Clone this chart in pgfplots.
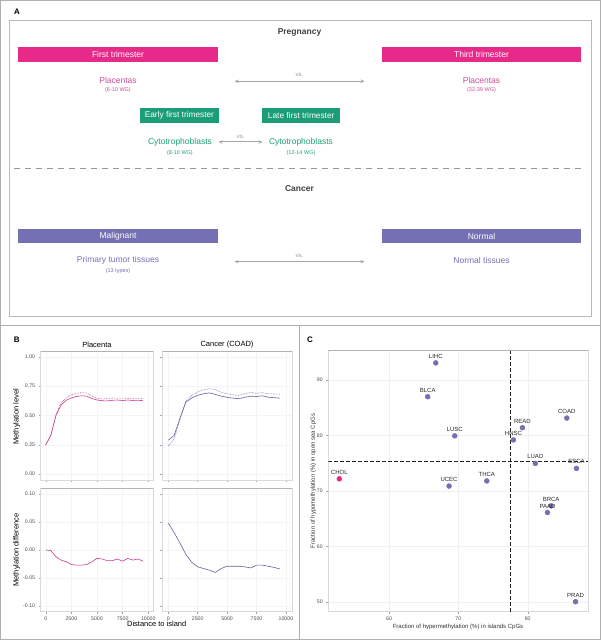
\documentclass[border=0pt]{standalone}
\usepackage{pgfplots}
\pgfplotsset{compat=1.18}
\usepackage{pgfplotstable}
\usepackage{fontspec}
\setmainfont{Liberation Sans}
\usetikzlibrary{arrows.meta}
\definecolor{dpink}{RGB}{231,41,138}
\definecolor{dgreen}{RGB}{27,158,119}
\definecolor{dpurple}{RGB}{117,112,179}
\definecolor{plac}{RGB}{200,60,140}
\definecolor{canc}{RGB}{100,96,160}
\definecolor{plactext}{RGB}{204,76,150}
\definecolor{framegray}{RGB}{175,175,175}
\definecolor{ticktext}{RGB}{77,77,77}
\newcommand{\fs}[1]{\fontsize{#1}{#1}\selectfont}

\pgfplotstableread{
d sol dot diff
0 0.250 0.250 0.000
500 0.330 0.331 -0.001
1000 0.500 0.512 -0.012
1500 0.590 0.608 -0.018
2000 0.630 0.651 -0.021
2500 0.650 0.676 -0.026
3000 0.662 0.689 -0.027
3500 0.668 0.695 -0.027
4000 0.665 0.691 -0.026
4500 0.645 0.666 -0.021
5000 0.632 0.647 -0.015
5500 0.626 0.642 -0.016
6000 0.624 0.643 -0.019
6500 0.630 0.649 -0.019
7000 0.632 0.648 -0.016
7500 0.628 0.648 -0.020
8000 0.632 0.647 -0.015
8500 0.628 0.646 -0.018
9000 0.630 0.646 -0.016
9500 0.626 0.646 -0.020
}\plactab

\pgfplotstableread{
d sol dot diff
0 0.290 0.242 0.048
500 0.330 0.299 0.031
1000 0.480 0.468 0.012
1500 0.615 0.623 -0.008
2000 0.650 0.672 -0.022
2500 0.672 0.702 -0.030
3000 0.685 0.718 -0.033
3500 0.693 0.729 -0.036
4000 0.680 0.720 -0.040
4500 0.665 0.698 -0.033
5000 0.655 0.684 -0.029
5500 0.648 0.677 -0.029
6000 0.643 0.672 -0.029
6500 0.655 0.685 -0.030
7000 0.665 0.697 -0.032
7500 0.662 0.689 -0.027
8000 0.668 0.695 -0.027
8500 0.656 0.685 -0.029
9000 0.652 0.683 -0.031
9500 0.648 0.682 -0.034
}\canctab

\pgfplotstableread{
x y lab
66.74 93.10 LIHC
65.58 86.99 BLCA
69.48 79.94 LUSC
68.66 70.87 UCEC
74.10 71.80 THCA
79.24 81.40 READ
77.94 79.20 HNSC
85.64 83.14 COAD
81.10 74.96 LUAD
87.03 74.06 ESCA
83.38 67.30 BRCA
82.85 66.10 PAAD
86.90 50.00 PRAD
}\ctab

\pgfplotstableread{
x y lab
52.83 72.18 CHOL
}\choltab

\pgfplotsset{
  bstyle/.style={scale only axis, anchor=south west, xmin=-500, xmax=10500,
    scaled ticks=false,
    axis line style={gray!30, line width=0.5pt},
    tick style={gray!70, line width=0.4pt}, tick align=outside,
    major tick length=2pt, xtick pos=lower, ytick pos=left,
    tick label style={font=\fs{5.2}, text=ticktext},
    grid=major, grid style={gray!9, line width=0.4pt},
    xtick={0,2500,5000,7500,10000}},
  toppan/.style={bstyle, height=129pt, ymin=-0.05, ymax=1.05,
    ytick={0,0.25,0.5,0.75,1}, xticklabels={}},
  botpan/.style={bstyle, height=123.4pt, ymin=-0.11, ymax=0.11,
    ytick={-0.1,-0.05,0,0.05,0.1},
    xticklabels={0,2500,5000,7500,10000}},
}

\begin{document}
\begin{tikzpicture}
% outer frames
\draw[framegray, line width=1pt] (0.5pt,0.5pt) rectangle (600.5pt,639.5pt);
\draw[framegray, line width=1pt] (0pt,314.3pt) -- (601pt,314.3pt);
\draw[framegray, line width=1pt] (299.5pt,0pt) -- (299.5pt,314.3pt);

\begin{scope}[x=1pt,y=1pt]
% ---------------- Panel A ----------------
\node[font=\bfseries\fs{8}] at (17,628) {A};
\draw[gray!55, line width=0.7pt] (9.2,323.3) rectangle (591.4,620);
\node[font=\bfseries\fs{8.5}, text=black!75] at (299.5,608) {Pregnancy};
\fill[dpink] (18,578) rectangle (218,592.7);
\fill[dpink] (381.7,578) rectangle (581.4,592.7);
\node[font=\fs{8.5}, text=white] at (118,585.3) {First trimester};
\node[font=\fs{8.5}, text=white] at (481.5,585.3) {Third trimester};
\node[font=\fs{8.5}, text=plactext] at (118,560) {Placentas};
\node[font=\fs{5.5}, text=plactext] at (118,550) {(6-10 WG)};
\node[font=\fs{8.5}, text=plactext] at (481.5,560) {Placentas};
\node[font=\fs{5.5}, text=plactext] at (481.5,550) {(32-39 WG)};
\draw[gray!70, line width=1pt, {Stealth[length=4pt,width=3.5pt]}-{Stealth[length=4pt,width=3.5pt]}] (234.6,558.7) -- (364.5,558.7);
\node[font=\fs{6}, text=gray!80] at (299.5,565) {vs.};
\fill[dgreen] (140.3,517.3) rectangle (218.5,532);
\fill[dgreen] (262,517.3) rectangle (340.4,532);
\node[font=\fs{8.3}, text=white] at (179.4,524.7) {Early first trimester};
\node[font=\fs{8.3}, text=white] at (301.2,524.7) {Late first trimester};
\node[font=\fs{8.5}, text=dgreen] at (180,498) {Cytotrophoblasts};
\node[font=\fs{5.5}, text=dgreen] at (180,487) {(8-10 WG)};
\node[font=\fs{8.5}, text=dgreen] at (301,498) {Cytotrophoblasts};
\node[font=\fs{5.5}, text=dgreen] at (301,487) {(12-14 WG)};
\draw[gray!70, line width=1pt, {Stealth[length=4pt,width=3.5pt]}-{Stealth[length=4pt,width=3.5pt]}] (218.5,498) -- (262.5,498);
\node[font=\fs{6}, text=gray!80] at (240.7,503.5) {vs.};
\draw[gray!80, line width=0.9pt, dash pattern=on 6pt off 5pt] (14,471.7) -- (580.7,471.7);
\node[font=\bfseries\fs{8.5}, text=black!75] at (299.5,451) {Cancer};
\fill[dpurple] (18,396.7) rectangle (218,411.3);
\fill[dpurple] (381.7,396.7) rectangle (581.4,411.3);
\node[font=\fs{8.5}, text=white] at (118,404) {Malignant};
\node[font=\fs{8.5}, text=white] at (481.5,404) {Normal};
\node[font=\fs{8.5}, text=dpurple] at (118,379.7) {Primary tumor tissues};
\node[font=\fs{5.5}, text=dpurple] at (118,369.3) {(13 types)};
\node[font=\fs{8.5}, text=dpurple] at (481.5,379.7) {Normal tissues};
\draw[gray!70, line width=1pt, {Stealth[length=4pt,width=3.5pt]}-{Stealth[length=4pt,width=3.5pt]}] (234.6,378.3) -- (364.5,378.3);
\node[font=\fs{6}, text=gray!80] at (299.5,384.5) {vs.};

% ---------------- Panel B labels ----------------
\node[font=\bfseries\fs{8}] at (16.7,300) {B};
\node[font=\fs{7.5}] at (97,295) {Placenta};
\node[font=\fs{7.5}] at (227,295) {Cancer (COAD)};
\node[font=\fs{7.5}, rotate=90] at (16.7,223.3) {Methylation level};
\node[font=\fs{7.5}, rotate=90] at (16.7,90) {Methylation difference};
\node[font=\fs{7.5}] at (156.7,15.7) {Distance to island};
% ---------------- Panel C labels ----------------
\node[font=\bfseries\fs{8}] at (310,300) {C};
\node[font=\fs{6}, text=black!80] at (458,13.3) {Fraction of hypermethylation (\%) in islands CpGs};
\node[font=\fs{6}, text=black!80, rotate=90] at (313.3,159) {Fraction of hypomethylation (\%) in open sea CpGs};
\end{scope}

\begin{axis}[toppan, at={(40.6pt,160pt)}, width=112.8pt,
  yticklabels={0.00,0.25,0.50,0.75,1.00}]
\addplot[plac, line width=0.6pt] table[x=d,y=sol]{\plactab};
\addplot[plac, line width=0.6pt, densely dotted] table[x=d,y=dot]{\plactab};
\draw[gray!60, line width=0.9pt] (rel axis cs:0,1) -- (rel axis cs:1,1);
\end{axis}
\begin{axis}[toppan, at={(162.4pt,160pt)}, width=129.4pt, yticklabels={}]
\addplot[canc, line width=0.6pt] table[x=d,y=sol]{\canctab};
\addplot[canc, line width=0.6pt, densely dotted] table[x=d,y=dot]{\canctab};
\draw[gray!60, line width=0.9pt] (rel axis cs:0,1) -- (rel axis cs:1,1);
\end{axis}
\begin{axis}[botpan, at={(40.6pt,28.3pt)}, width=112.8pt,
  yticklabels={-0.10,-0.05,0.00,0.05,0.10}]
\addplot[plac, line width=0.6pt] table[x=d,y=diff]{\plactab};
\draw[gray!60, line width=0.9pt] (rel axis cs:0,1) -- (rel axis cs:1,1);
\end{axis}
\begin{axis}[botpan, at={(162.4pt,28.3pt)}, width=129.4pt, yticklabels={}]
\addplot[canc, line width=0.6pt] table[x=d,y=diff]{\canctab};
\draw[gray!60, line width=0.9pt] (rel axis cs:0,1) -- (rel axis cs:1,1);
\end{axis}

% ---------------- Panel C ----------------
\begin{axis}[scale only axis, anchor=south west, at={(328.3pt,28.3pt)}, width=260pt, height=261pt,
  xmin=51.24, xmax=88.74, ymin=48.2, ymax=95.3, scaled ticks=false,
  xtick={60,70,80}, xticklabels={60,70,80},
  ytick={50,60,70,80,90}, yticklabels={50,60,70,80,90},
  axis line style={gray!30, line width=0.5pt},
  tick style={gray!70, line width=0.4pt}, tick align=outside,
  major tick length=2pt, xtick pos=lower, ytick pos=left,
  tick label style={font=\fs{5.2}, text=ticktext},
  grid=major, grid style={gray!12, line width=0.4pt}]
\addplot[gray!25!black, line width=0.7pt, dash pattern=on 3.5pt off 2.5pt] coordinates {(77.5,48.2) (77.5,95.3)};
\addplot[gray!25!black, line width=0.7pt, dash pattern=on 3.5pt off 2.5pt] coordinates {(51.24,75.25) (88.74,75.25)};
\addplot[only marks, mark=*, mark size=2.5pt, color=dpurple,
  nodes near coords, point meta=explicit symbolic,
  nodes near coords style={font=\fs{6}, text=black!85, anchor=south, inner sep=0pt, yshift=4.3pt}]
  table[x=x,y=y,meta=lab]{\ctab};
\addplot[only marks, mark=*, mark size=2.5pt, color=dpink,
  nodes near coords, point meta=explicit symbolic,
  nodes near coords style={font=\fs{6}, text=black!85, anchor=south, inner sep=0pt, yshift=4.3pt}]
  table[x=x,y=y,meta=lab]{\choltab};
\draw[gray!60, line width=0.9pt] (rel axis cs:0,1) -- (rel axis cs:1,1);
\end{axis}
\pgfresetboundingbox
\useasboundingbox (0pt,0pt) rectangle (601pt,640pt);
\end{tikzpicture}
\end{document}
